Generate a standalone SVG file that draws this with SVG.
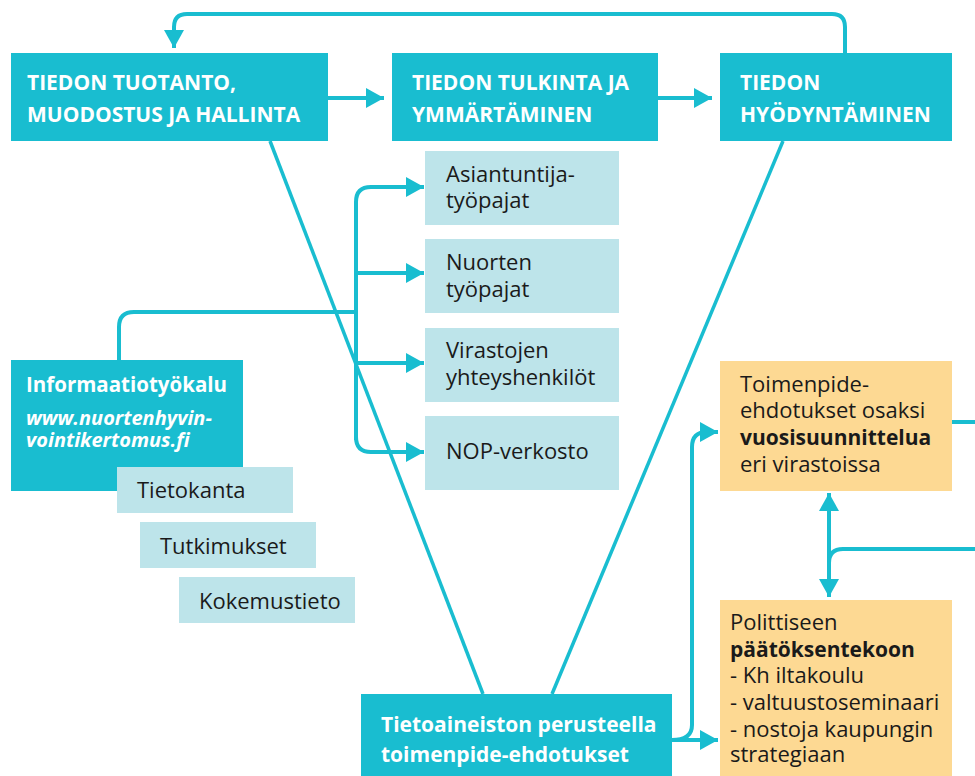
<svg xmlns="http://www.w3.org/2000/svg" width="975" height="776" viewBox="0 0 975 776">
<defs>
<style>
.dark{fill:#19BDD0}
.light{fill:#BDE4EA}
.orange{fill:#FDD993}
.hd{font-family:"Open Sans","Noto Sans","Liberation Sans",sans-serif;font-weight:bold;font-size:21px;fill:#fff}
.tx{font-family:"Open Sans","Noto Sans","Liberation Sans",sans-serif;font-size:22px;fill:#1a1a1a}
.b{font-weight:bold;font-size:21px}
.con{fill:none;stroke:#19BDD0;stroke-width:4}
.diag{fill:none;stroke:#19BDD0;stroke-width:3.5}
</style>
<marker id="ah" markerUnits="userSpaceOnUse" markerWidth="18" markerHeight="20" viewBox="0 0 18 20" refX="18" refY="10" orient="auto-start-reverse">
<path d="M0,0 L18,10 L0,20 Z" fill="#19BDD0"/>
</marker>
</defs>

<g id="connectors">
<line class="diag" x1="270" y1="141" x2="483" y2="694"/>
<line class="diag" x1="783" y1="141" x2="552" y2="694"/>
<path class="con" d="M328,98 H384" marker-end="url(#ah)"/>
<path class="con" d="M658,98 H712" marker-end="url(#ah)"/>
<path class="con" d="M845,53 V27 Q845,14 832,14 H187 Q174,14 174,27 V48" marker-end="url(#ah)"/>
<path class="con" d="M119,360 V327 Q119,312 134,312 H356"/>
<path class="con" d="M356,440 V202 Q356,187 371,187 H424" marker-end="url(#ah)"/>
<path class="con" d="M356,430 V437 Q356,452 371,452 H424" marker-end="url(#ah)"/>
<path class="con" d="M356,273 H424" marker-end="url(#ah)"/>
<path class="con" d="M356,363 H424" marker-end="url(#ah)"/>
<path class="con" d="M672,740 H718" marker-end="url(#ah)"/>
<path class="con" d="M672,740 Q692,740 692,725 V447 Q692,432 707,432 H718" marker-end="url(#ah)"/>
<path class="con" d="M829,493 V597" marker-start="url(#ah)" marker-end="url(#ah)"/>
<path class="con" d="M976,549 H843 Q829,549 829,563"/>
<path class="con" d="M952,422 H976"/>
</g>

<g id="n-tuotanto">
<rect class="dark" x="11" y="53" width="317" height="88"/>
<text class="hd" x="27" y="90">TIEDON TUOTANTO,</text>
<text class="hd" x="27" y="122">MUODOSTUS JA HALLINTA</text>
</g>
<g id="n-tulkinta">
<rect class="dark" x="392" y="53" width="266" height="88"/>
<text class="hd" x="412" y="90">TIEDON TULKINTA JA</text>
<text class="hd" x="412" y="122">YMMÄRTÄMINEN</text>
</g>
<g id="n-hyodyntaminen">
<rect class="dark" x="720" y="53" width="232" height="88"/>
<text class="hd" x="740" y="90">TIEDON</text>
<text class="hd" x="740" y="122">HYÖDYNTÄMINEN</text>
</g>

<g id="n-asiantuntija">
<rect class="light" x="425" y="151" width="194" height="74"/>
<text class="tx" x="446" y="182">Asiantuntija-</text>
<text class="tx" x="446" y="208">työpajat</text>
</g>
<g id="n-nuorten">
<rect class="light" x="425" y="239" width="194" height="74"/>
<text class="tx" x="446" y="270">Nuorten</text>
<text class="tx" x="446" y="297">työpajat</text>
</g>
<g id="n-virastojen">
<rect class="light" x="425" y="328" width="194" height="74"/>
<text class="tx" x="446" y="358">Virastojen</text>
<text class="tx" x="446" y="385">yhteyshenkilöt</text>
</g>
<g id="n-nop">
<rect class="light" x="425" y="416" width="194" height="74"/>
<text class="tx" x="446" y="459">NOP-verkosto</text>
</g>

<g id="n-informaatio">
<rect class="dark" x="11" y="360" width="232" height="131"/>
<text class="hd" x="26" y="392" style="font-size:20.5px">Informaatiotyökalu</text>
<text class="hd" x="26" y="425" style="font-size:20px;font-style:italic">www.nuortenhyvin-</text>
<text class="hd" x="26" y="447" style="font-size:20px;font-style:italic">vointikertomus.fi</text>
</g>
<g id="n-tietokanta">
<rect class="light" x="117" y="467" width="176" height="46"/>
<text class="tx" x="137" y="498">Tietokanta</text>
</g>
<g id="n-tutkimukset">
<rect class="light" x="140" y="522" width="176" height="46"/>
<text class="tx" x="160" y="554">Tutkimukset</text>
</g>
<g id="n-kokemustieto">
<rect class="light" x="179" y="577" width="176" height="46"/>
<text class="tx" x="199" y="609">Kokemustieto</text>
</g>

<g id="n-tietoaineisto">
<rect class="dark" x="361" y="694" width="311" height="82"/>
<text class="hd" x="381" y="732">Tietoaineiston perusteella</text>
<text class="hd" x="381" y="762">toimenpide-ehdotukset</text>
</g>

<g id="n-vuosisuunnittelu">
<rect class="orange" x="720" y="361" width="232" height="130"/>
<text class="tx" x="740" y="392">Toimenpide-</text>
<text class="tx" x="740" y="418">ehdotukset osaksi</text>
<text class="tx b" x="740" y="445">vuosisuunnittelua</text>
<text class="tx" x="740" y="472">eri virastoissa</text>
</g>
<g id="n-poliittinen">
<rect class="orange" x="720" y="600" width="232" height="176"/>
<text class="tx" x="730" y="630">Polittiseen</text>
<text class="tx b" x="730" y="657">päätöksentekoon</text>
<text class="tx" x="730" y="683">- Kh iltakoulu</text>
<text class="tx" x="730" y="710">- valtuustoseminaari</text>
<text class="tx" x="730" y="737">- nostoja kaupungin</text>
<text class="tx" x="730" y="762">strategiaan</text>
</g>
</svg>
